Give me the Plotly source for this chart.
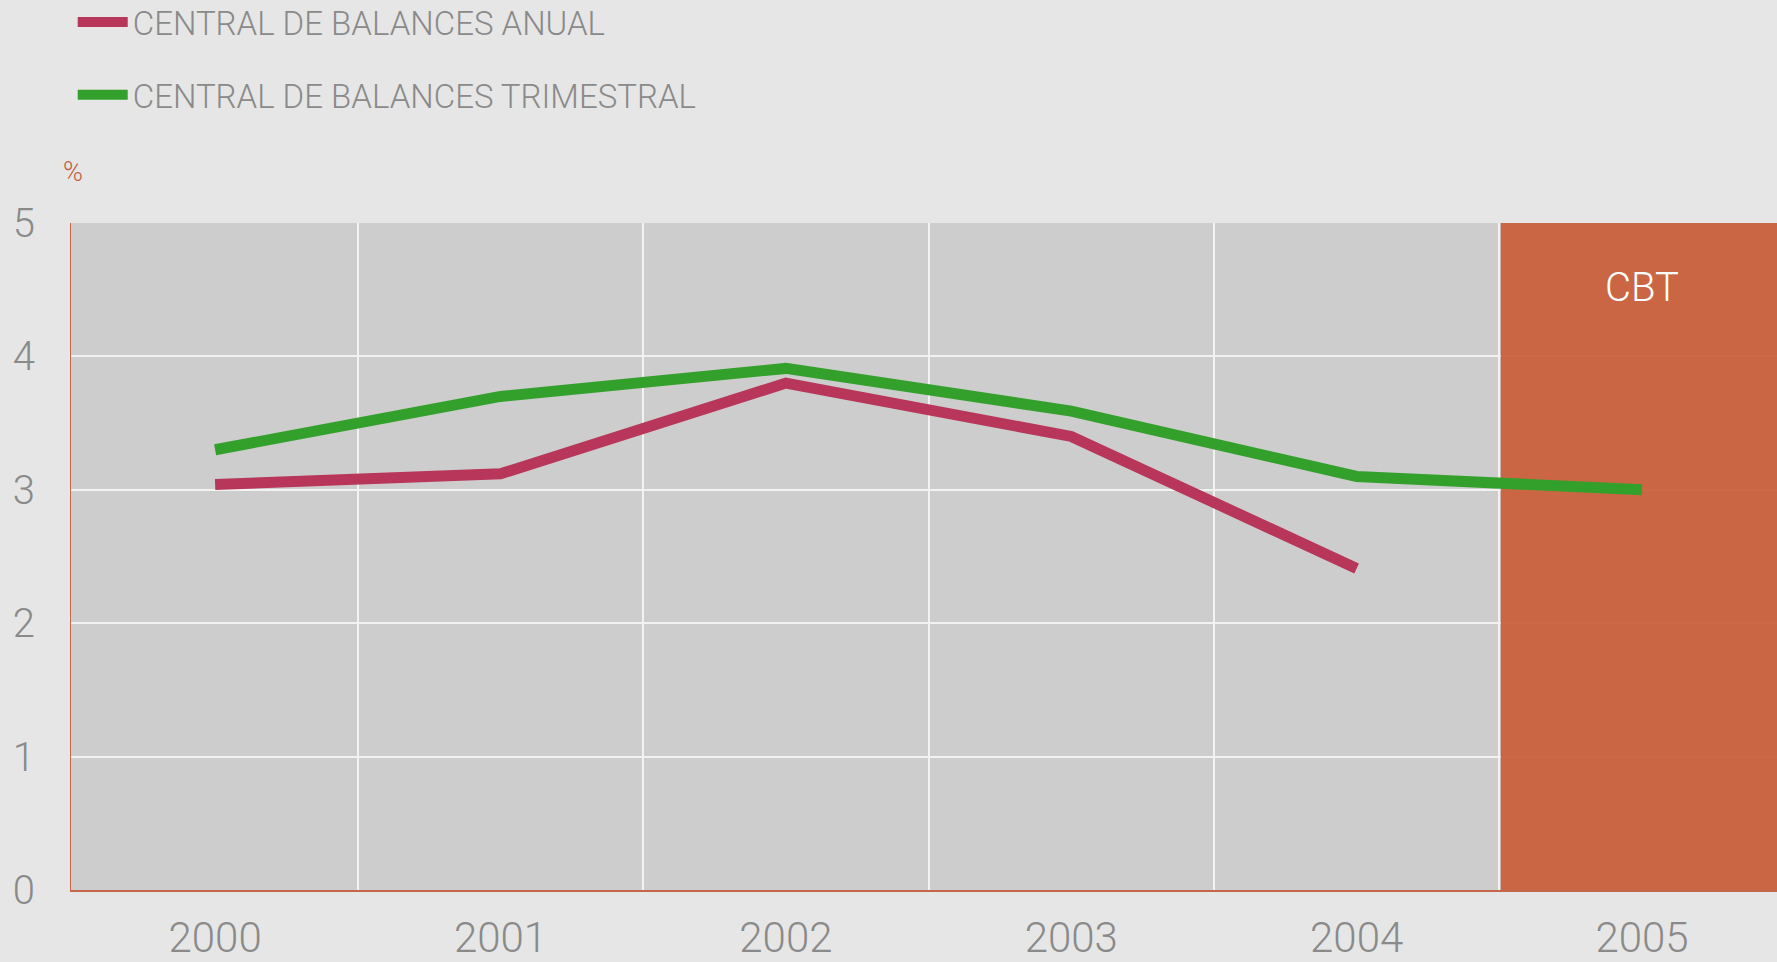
import plotly.graph_objects as go

years = [2000, 2001, 2002, 2003, 2004, 2005]
anual = [3.04, 3.12, 3.80, 3.40, 2.41, None]
trimestral = [3.30, 3.70, 3.91, 3.59, 3.10, 3.00]
y_ticks = [0, 1, 2, 3, 4, 5]
name_anual = "CENTRAL DE BALANCES ANUAL"
name_trim = "CENTRAL DE BALANCES TRIMESTRAL"
shade_label = "CBT"
unit_label = "%"

FONT = "Roboto"
GREY = "#8a8a8a"
RED = "#b8365a"
GREEN = "#33a02c"
ORANGE = "#cb6240"
AXIS = "#c4674a"

fig = go.Figure()
fig.add_trace(go.Scatter(x=years, y=anual, mode="lines", name=name_anual,
                         line=dict(color=RED, width=11), legendgroup="a"))
fig.add_trace(go.Scatter(x=years, y=trimestral, mode="lines", name=name_trim,
                         line=dict(color=GREEN, width=11), legendgroup="b"))

fig.add_shape(type="rect", xref="x", yref="y", x0=years[-1] - 0.495, x1=years[-1] + 0.6,
              y0=0, y1=5, fillcolor=ORANGE, opacity=0.96, line_width=0, layer="between")

fig.add_annotation(x=years[-1], y=4.52, xref="x", yref="y", text=shade_label,
                   showarrow=False, font=dict(family=FONT, size=40, color="white", weight=300))
fig.add_annotation(x=(73 - 71) / 1706, y=(890 - 172) / 667, xref="paper", yref="paper",
                   text=unit_label, showarrow=False, xanchor="center", yanchor="middle",
                   font=dict(family=FONT, size=27, color="#c0603f", weight=300))

fig.update_layout(
    width=1777, height=962,
    margin=dict(l=71, r=0, t=223, b=72, autoexpand=False),
    paper_bgcolor="#e6e6e6",
    plot_bgcolor="#cdcdcd",
    font=dict(family=FONT, color=GREY, weight=300),
    legend=dict(x=0.001, xanchor="left", y=1 + (223 + 6) / 667, yanchor="top", yref="paper",
                font=dict(family=FONT, size=33, color=GREY, weight=300),
                bgcolor="rgba(0,0,0,0)", traceorder="grouped", tracegroupgap=27,
                itemwidth=50),
    xaxis=dict(range=[1999.495, 2005.473], tickvals=years, ticktext=[str(y) for y in years],
               showgrid=False, zeroline=False, showline=True, linecolor=AXIS, linewidth=1.5,
               ticks="", ticklabelstandoff=10, automargin=False,
               tickfont=dict(family=FONT, size=42, color=GREY, weight=300),
               minor=dict(tickvals=[y + 0.5 for y in years[:-1]], showgrid=True,
                          gridcolor="#f2f2f2", gridwidth=1.5, ticks="")),
    yaxis=dict(range=[0, 5], tickvals=y_ticks, showgrid=True, gridcolor="#f2f2f2", gridwidth=1.5,
               zeroline=False, showline=True, linecolor=AXIS, linewidth=1, ticks="",
               ticklabelstandoff=27, automargin=False,
               tickfont=dict(family=FONT, size=40, color=GREY, weight=300)),
)

fig.write_html("out.html", config={"displayModeBar": False},
               post_script="document.body.style.margin='0';document.body.style.overflow='hidden';")
